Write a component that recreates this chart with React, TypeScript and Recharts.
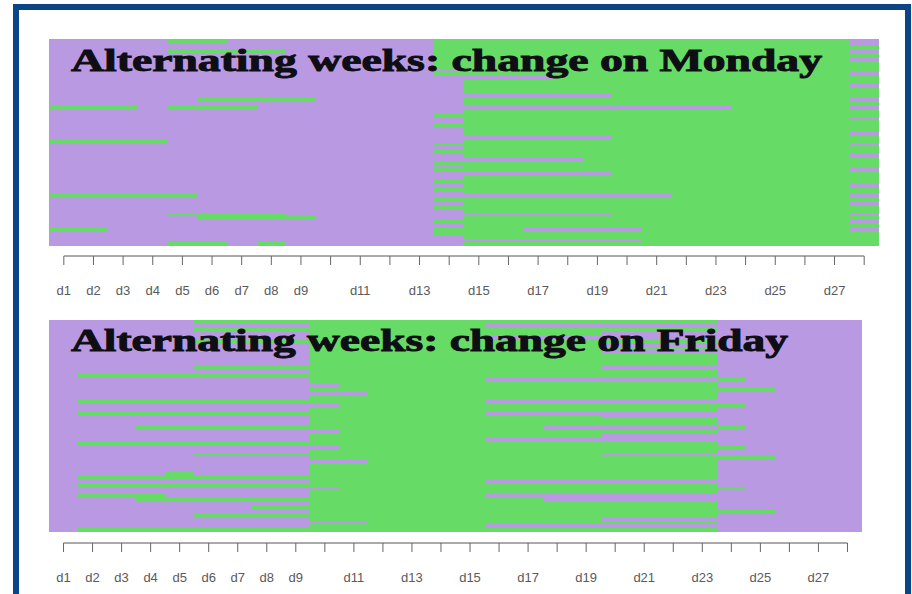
import React from 'react';
import { BarChart, Bar, XAxis, YAxis, Cell } from 'recharts';

const PURPLE = '#b99ae2';
const GREEN = '#66dc66';

const dayKeys = ['d1','d2','d3','d4','d5','d6','d7','d8','d9','d10','d11','d12','d13','d14','d15','d16','d17','d18','d19','d20','d21','d22','d23','d24','d25','d26','d27','d28'];
const dayNumbers = [1,2,3,4,5,6,7,8,9,10,11,12,13,14,15,16,17,18,19,20,21,22,23,24,25,26,27,28];
const dayTickLabels = ['d1','d2','d3','d4','d5','d6','d7','d8','d9','','d11','','d13','','d15','','d17','','d19','','d21','','d23','','d25','','d27',''];

// Each row: run lengths of alternating states, starting with purple (P), then green (G), ...
const mondayRuns: number[][] = [
  [4,2,7,14,1],
  [13,14,1],
  [13,15],
  [4,4,5,14,1],
  [13,15],
  [13,14,1],
  [13,15],
  [13,15],
  [14,14],
  [13,14,1],
  [17,11],
  [14,14],
  [14,13,1],
  [14,14],
  [14,14],
  [19,9],
  [5,4,5,13,1],
  [14,14],
  [0,3,1,3,16,4,1],
  [14,14],
  [13,15],
  [14,13,1],
  [14,14],
  [13,15],
  [14,14],
  [14,13,1],
  [19,9],
  [0,4,10,14],
  [13,14,1],
  [14,14],
  [13,15],
  [14,13,1],
  [18,10],
  [13,15],
  [14,14],
  [13,14,1],
  [19,9],
  [14,14],
  [13,15],
  [14,13,1],
  [13,15],
  [14,14],
  [0,5,16,6,1],
  [13,15],
  [14,13,1],
  [13,15],
  [14,14],
  [4,4,11,8,1],
  [5,4,5,14],
  [13,14,1],
  [14,14],
  [0,2,11,3,4,7,1],
  [13,15],
  [14,14],
  [20,8],
  [4,2,1,1,6,14],
];

const fridayRuns: number[][] = [
  [5,18,5],
  [9,6,13],
  [5,18,5],
  [9,10,9],
  [9,6,13],
  [5,18,5],
  [9,10,9],
  [9,14,5],
  [9,10,9],
  [9,14,5],
  [9,14,5],
  [9,14,5],
  [5,14,9],
  [9,14,5],
  [1,22,5],
  [9,6,8,1,4],
  [9,14,5],
  [10,13,5],
  [9,16,3],
  [11,12,5],
  [9,14,5],
  [1,14,13],
  [10,14,4],
  [9,14,5],
  [1,14,13],
  [9,10,9],
  [9,14,5],
  [9,14,5],
  [3,14,6,1,4],
  [10,13,5],
  [9,10,9],
  [9,6,13],
  [1,22,5],
  [10,14,4],
  [9,14,5],
  [5,14,9],
  [9,16,3],
  [11,12,5],
  [9,14,5],
  [9,14,5],
  [4,1,4,14,5],
  [1,22,5],
  [9,6,13],
  [1,22,5],
  [10,14,4],
  [9,14,5],
  [1,3,5,6,13],
  [3,14,11],
  [9,14,5],
  [7,16,5],
  [9,16,3],
  [5,18,5],
  [9,10,9],
  [11,12,5],
  [9,6,13],
  [1,22,5],
];

function decode(runs: number[]): string {
  let s = '';
  let green = false;
  for (const r of runs) {
    s += (green ? 'G' : 'P').repeat(r);
    green = !green;
  }
  return s;
}

type PanelProps = {
  runs: number[][];
  title: string;
  width: number;
  height: number;
  margin: { top: number; right: number; bottom: number; left: number };
  padBottom: number;
  titleX: number;
  titleY: number;
  titleLen: number;
};

function Panel({ runs, title, width, height, margin, padBottom, titleX, titleY, titleLen }: PanelProps) {
  const rows = runs.map(decode);
  const data = rows.map((_, i) => {
    const o: Record<string, any> = { row: 'r' + i };
    dayKeys.forEach((d) => { o[d] = 1; });
    return o;
  });
  const plotW = width - margin.left - margin.right;
  const col = plotW / dayKeys.length;
  const half = col / 2;
  const lineLen = col * (dayKeys.length - 1);
  return (
    <div style={{ position: 'relative', width, height }}>
      <BarChart
        width={width}
        height={height}
        data={data}
        layout="vertical"
        margin={margin}
        barCategoryGap={0}
        barGap={0}
      >
        <XAxis xAxisId="bars" type="number" domain={[0, 28]} hide allowDataOverflow height={0} />
        <XAxis
          xAxisId="days"
          type="number"
          domain={[1, 28]}
          ticks={dayNumbers}
          allowDataOverflow
          interval={0}
          padding={{ left: half, right: half }}
          tickFormatter={(v: number) => dayTickLabels[v - 1] ?? ''}
          axisLine={{ stroke: '#555', strokeDasharray: `0 ${half} ${lineLen} ${col * 3}` }}
          tickLine={{ stroke: '#666' }}
          tickSize={9}
          tickMargin={21}
          tick={{ fill: '#5a5a5a', fontSize: 13, fontFamily: 'Liberation Sans, Arial, sans-serif' }}
          height={40}
        />
        <YAxis type="category" dataKey="row" hide padding={{ top: 0, bottom: padBottom }} />
        {dayKeys.map((d, j) => (
          <Bar key={d} dataKey={d} xAxisId="bars" stackId="s" isAnimationActive={false}>
            {rows.map((r, i) => {
              const c = r[j] === 'G' ? GREEN : PURPLE;
              return <Cell key={i} fill={c} stroke="none" shapeRendering="crispEdges" />;
            })}
          </Bar>
        ))}
      </BarChart>
      <svg
        width={width}
        height={height}
        style={{ position: 'absolute', left: 0, top: 0, pointerEvents: 'none' }}
      >
        <text
          x={titleX}
          y={titleY}
          fontFamily="Liberation Serif, 'Times New Roman', serif"
          fontWeight="bold"
          fontSize={31}
          fill="#0e0e14"
          stroke="#0e0e14"
          strokeWidth={0.9}
          textLength={titleLen}
          lengthAdjust="spacingAndGlyphs"
        >
          {title}
        </text>
      </svg>
    </div>
  );
}

export default function App() {
  return (
    <div style={{ position: 'absolute', left: 0, top: 0, width: 912, height: 594, background: '#fff', overflow: 'hidden' }}>
      <div
        style={{
          position: 'absolute',
          left: 13,
          top: 4,
          width: 898,
          height: 640,
          border: '6px solid #0b4586',
          boxSizing: 'border-box',
        }}
      />
      <div style={{ position: 'absolute', left: 0, top: 0 }}>
        <Panel
          runs={mondayRuns}
          title="Alternating weeks: change on Monday"
          width={912}
          height={300}
          margin={{ top: 39, right: 33, bottom: 4, left: 49 }}
          padBottom={10}
          titleX={71}
          titleY={71}
          titleLen={751}
        />
      </div>
      <div style={{ position: 'absolute', left: 0, top: 300 }}>
        <Panel
          runs={fridayRuns}
          title="Alternating weeks: change on Friday"
          width={912}
          height={294}
          margin={{ top: 20, right: 50, bottom: 11, left: 49 }}
          padBottom={11}
          titleX={71}
          titleY={51}
          titleLen={717}
        />
      </div>
    </div>
  );
}
